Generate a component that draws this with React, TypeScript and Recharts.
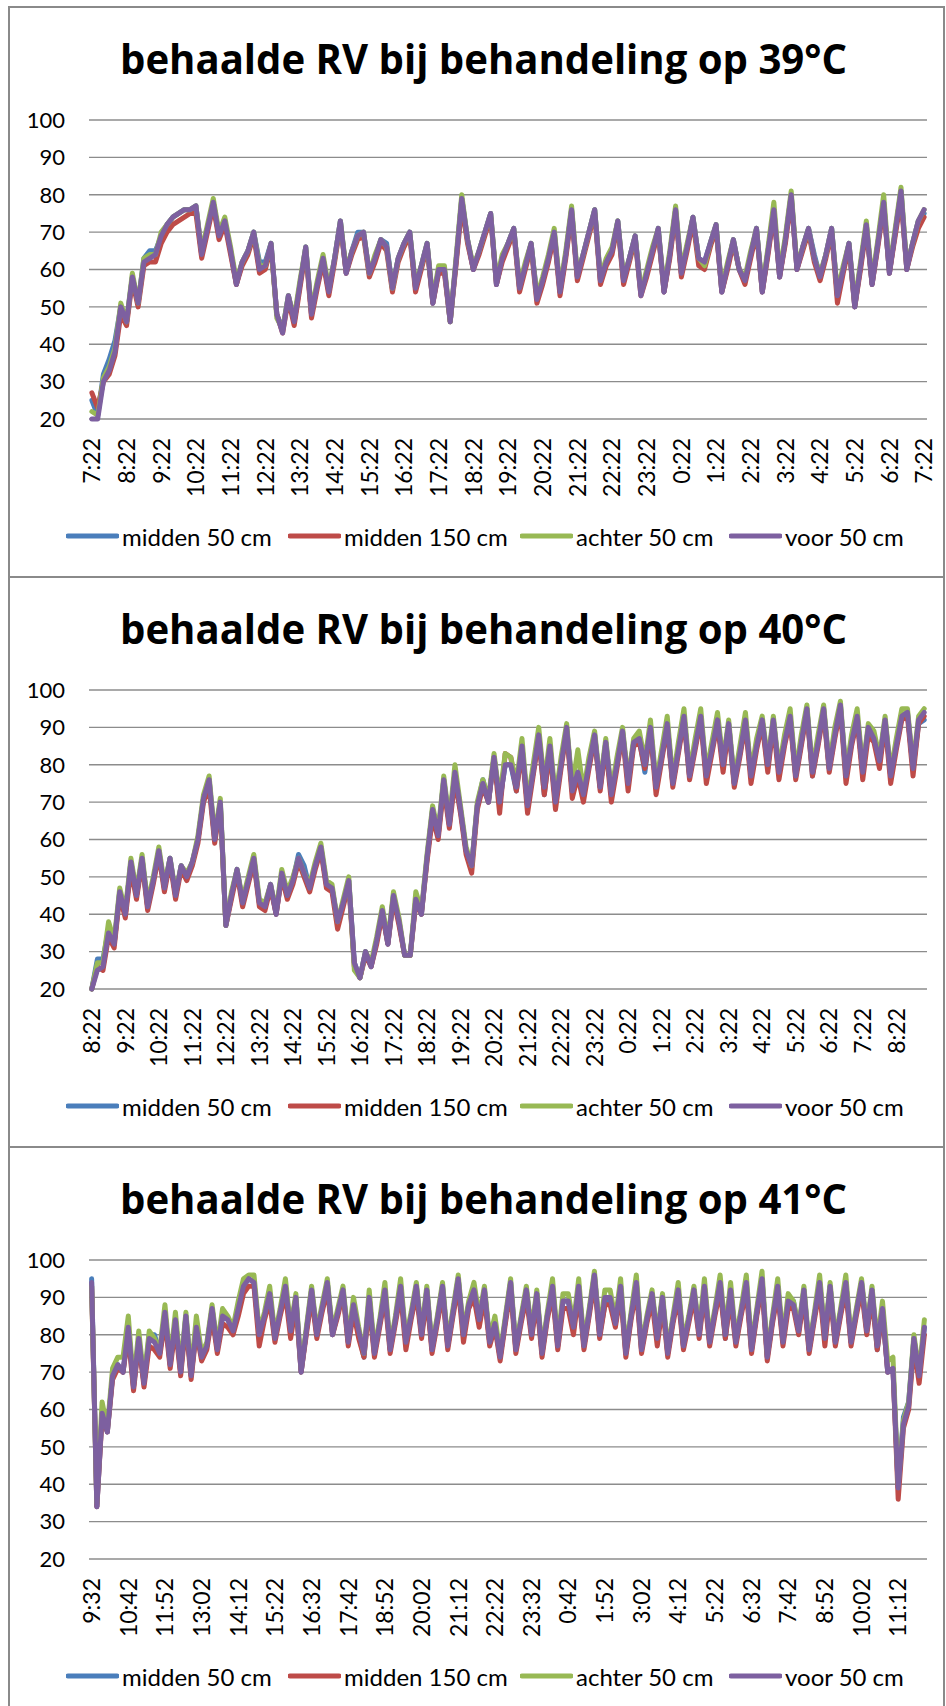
import { LineChart, Line, XAxis, YAxis, CartesianGrid, Legend } from "recharts";

const seriesNames = ["midden 50 cm", "midden 150 cm", "achter 50 cm", "voor 50 cm"];
const seriesKeys = ["mid50", "mid150", "achter", "voor"];
const seriesColors = ["#4A7EBB", "#BE4B48", "#98B954", "#7D60A0"];
const yTicks = [20, 30, 40, 50, 60, 70, 80, 90, 100];

// 39°C, one point every 10 min, label every hour
const labels39 = ["7:22", "8:22", "9:22", "10:22", "11:22", "12:22", "13:22", "14:22", "15:22", "16:22", "17:22", "18:22", "19:22",
    "20:22", "21:22", "22:22", "23:22", "0:22", "1:22", "2:22", "3:22", "4:22", "5:22", "6:22", "7:22"];
const mid50_39 = [
    25, 21, 32, 36, 41, 50, 46, 58, 51, 63, 65, 65, 69, 72, 74, 75, 76, 76, 77, 64,
    71, 78, 69, 73, 65, 56, 62, 65, 70, 62, 62, 67, 48, 44, 53, 46, 56, 66, 48, 56,
    63, 54, 63, 73, 59, 65, 70, 70, 59, 63, 68, 67, 55, 63, 67, 70, 55, 61, 67, 51,
    60, 60, 46, 62, 79, 68, 60, 65, 70, 75, 56, 63, 67, 71, 55, 61, 67, 53, 57, 63,
    70, 54, 64, 76, 58, 64, 70, 76, 57, 62, 65, 73, 57, 63, 69, 54, 59, 65, 71, 54,
    64, 76, 59, 66, 74, 63, 62, 67, 72, 54, 61, 68, 60, 57, 64, 71, 54, 65, 76, 58,
    68, 80, 60, 66, 71, 64, 58, 64, 71, 53, 60, 67, 50, 61, 72, 56, 67, 78, 59, 70,
    81, 60, 67, 73, 75];
const mid150_39 = [
    27, 23, 30, 32, 37, 48, 45, 57, 50, 61, 62, 62, 67, 70, 72, 73, 74, 75, 75, 63,
    70, 77, 68, 72, 64, 56, 61, 64, 69, 59, 60, 66, 48, 43, 52, 45, 55, 65, 47, 55,
    62, 53, 62, 72, 59, 64, 68, 69, 58, 62, 67, 65, 54, 62, 66, 69, 54, 60, 66, 51,
    59, 59, 46, 61, 77, 67, 60, 64, 69, 74, 56, 62, 66, 70, 54, 60, 66, 51, 56, 62,
    69, 53, 63, 75, 57, 63, 69, 75, 56, 61, 64, 72, 56, 62, 68, 53, 58, 64, 70, 54,
    63, 75, 58, 65, 73, 61, 60, 66, 71, 54, 60, 67, 60, 56, 63, 70, 54, 64, 75, 58,
    67, 79, 60, 65, 70, 62, 57, 63, 70, 51, 59, 66, 50, 60, 71, 56, 66, 77, 59, 69,
    79, 60, 66, 71, 74];
const achter_39 = [
    22, 21, 31, 34, 39, 51, 46, 59, 51, 63, 64, 64, 70, 72, 74, 75, 76, 76, 77, 65,
    72, 79, 70, 74, 66, 57, 62, 65, 70, 61, 61, 67, 47, 44, 53, 47, 57, 66, 49, 57,
    64, 55, 63, 73, 60, 65, 69, 70, 59, 64, 68, 66, 55, 63, 67, 70, 56, 61, 67, 52,
    61, 61, 46, 63, 80, 68, 61, 65, 70, 75, 57, 64, 67, 71, 56, 62, 67, 53, 58, 64,
    71, 55, 65, 77, 59, 64, 70, 76, 58, 63, 66, 73, 58, 63, 69, 54, 60, 66, 71, 55,
    65, 77, 60, 67, 74, 63, 61, 67, 72, 55, 62, 68, 60, 58, 65, 71, 55, 66, 78, 59,
    69, 81, 61, 66, 71, 63, 59, 64, 71, 54, 61, 67, 51, 62, 73, 57, 68, 80, 60, 71,
    82, 61, 67, 73, 76];
const voor_39 = [
    20, 20, 30, 33, 38, 50, 46, 58, 51, 62, 63, 64, 69, 72, 74, 75, 76, 76, 77, 64,
    71, 78, 69, 73, 65, 56, 62, 65, 70, 60, 61, 67, 48, 43, 53, 46, 56, 66, 48, 56,
    63, 54, 63, 73, 59, 65, 69, 70, 59, 63, 68, 66, 55, 63, 67, 70, 55, 61, 67, 51,
    60, 60, 46, 62, 79, 68, 60, 65, 70, 75, 56, 63, 67, 71, 55, 61, 67, 52, 57, 63,
    70, 54, 64, 76, 58, 64, 70, 76, 57, 62, 65, 73, 57, 63, 69, 53, 59, 65, 71, 54,
    64, 76, 59, 66, 74, 63, 62, 67, 72, 54, 61, 68, 60, 57, 64, 71, 54, 65, 76, 58,
    68, 80, 60, 66, 71, 63, 58, 64, 71, 53, 60, 67, 50, 61, 72, 56, 67, 78, 59, 70,
    81, 60, 67, 73, 76];

// 40°C
const labels40 = ["8:22", "9:22", "10:22", "11:22", "12:22", "13:22", "14:22", "15:22", "16:22", "17:22", "18:22", "19:22", "20:22",
    "21:22", "22:22", "23:22", "0:22", "1:22", "2:22", "3:22", "4:22", "5:22", "6:22", "7:22", "8:22"];
const mid50_40 = [
    20, 28, 28, 36, 32, 46, 40, 54, 45, 55, 42, 49, 57, 47, 55, 45, 53, 50, 54, 60,
    71, 76, 60, 70, 37, 45, 52, 43, 49, 55, 43, 42, 48, 40, 51, 45, 49, 56, 53, 47,
    53, 58, 48, 47, 38, 43, 49, 27, 23, 30, 26, 33, 41, 32, 45, 38, 29, 29, 44, 40,
    55, 68, 61, 76, 64, 78, 68, 57, 53, 69, 76, 70, 82, 70, 80, 80, 73, 85, 69, 78,
    88, 72, 85, 70, 80, 90, 73, 78, 72, 80, 88, 74, 86, 72, 80, 89, 75, 86, 87, 78,
    90, 74, 82, 91, 75, 84, 93, 77, 85, 93, 77, 84, 92, 80, 91, 75, 83, 92, 77, 85,
    92, 79, 92, 78, 86, 93, 77, 86, 95, 77, 86, 95, 79, 88, 96, 77, 86, 93, 78, 90,
    87, 81, 92, 77, 85, 93, 94, 79, 91, 92];
const mid150_40 = [
    20, 26, 25, 34, 31, 45, 39, 52, 44, 54, 41, 48, 56, 46, 54, 44, 52, 49, 53, 59,
    70, 74, 59, 69, 37, 44, 51, 42, 48, 54, 42, 41, 47, 40, 50, 44, 48, 54, 50, 46,
    52, 57, 47, 46, 36, 42, 48, 26, 23, 29, 26, 32, 40, 32, 44, 37, 29, 29, 43, 40,
    54, 66, 60, 74, 63, 76, 67, 56, 51, 68, 74, 70, 82, 67, 83, 82, 73, 84, 67, 77,
    87, 72, 84, 68, 79, 89, 71, 77, 70, 79, 87, 73, 85, 70, 79, 88, 73, 85, 86, 79,
    89, 72, 81, 90, 74, 83, 92, 76, 84, 92, 75, 83, 91, 78, 90, 74, 82, 91, 75, 84,
    91, 78, 91, 76, 85, 92, 76, 85, 94, 77, 85, 94, 78, 87, 95, 75, 85, 92, 76, 88,
    86, 79, 91, 75, 84, 92, 93, 77, 91, 93];
const achter_40 = [
    20, 27, 27, 38, 33, 47, 41, 55, 46, 56, 43, 50, 58, 48, 55, 46, 53, 51, 54, 61,
    72, 77, 61, 71, 37, 46, 52, 44, 50, 56, 44, 43, 48, 41, 52, 46, 50, 55, 51, 48,
    54, 59, 49, 48, 38, 44, 50, 25, 23, 30, 27, 34, 42, 33, 46, 39, 29, 29, 46, 41,
    56, 69, 62, 77, 65, 80, 69, 58, 53, 70, 76, 71, 83, 71, 83, 82, 75, 87, 70, 80,
    90, 75, 87, 71, 82, 91, 74, 84, 73, 82, 89, 75, 87, 73, 82, 90, 76, 87, 89, 81,
    92, 75, 84, 93, 76, 86, 95, 78, 87, 95, 78, 86, 94, 81, 92, 76, 85, 94, 78, 87,
    93, 81, 93, 79, 88, 95, 78, 88, 96, 79, 88, 96, 80, 90, 97, 78, 88, 95, 79, 91,
    89, 82, 93, 78, 87, 95, 95, 80, 93, 95];
const voor_40 = [
    20, 25, 26, 35, 32, 46, 40, 54, 45, 55, 42, 49, 57, 47, 55, 45, 53, 50, 54, 60,
    71, 76, 60, 70, 37, 45, 52, 43, 49, 55, 43, 42, 48, 40, 51, 45, 49, 55, 51, 47,
    53, 58, 48, 47, 38, 43, 49, 27, 23, 30, 26, 33, 41, 32, 45, 38, 29, 29, 44, 40,
    55, 68, 61, 76, 64, 78, 68, 57, 53, 69, 75, 70, 82, 70, 80, 80, 74, 85, 69, 78,
    88, 74, 85, 70, 80, 90, 73, 78, 72, 80, 88, 74, 86, 72, 80, 89, 75, 86, 87, 80,
    90, 74, 82, 91, 75, 84, 93, 77, 85, 93, 77, 84, 92, 80, 91, 75, 83, 92, 77, 85,
    92, 80, 92, 78, 86, 93, 77, 86, 95, 78, 86, 95, 79, 88, 96, 77, 86, 93, 78, 90,
    87, 81, 92, 77, 85, 93, 94, 79, 92, 94];

// 41°C, label every 70 min
const labels41 = ["9:32", "10:42", "11:52", "13:02", "14:12", "15:22", "16:32", "17:42", "18:52", "20:02", "21:12", "22:22",
    "23:32", "0:42", "1:52", "3:02", "4:12", "5:22", "6:32", "7:42", "8:52", "10:02", "11:12"];
const mid50_41 = [
    95, 34, 59, 54, 69, 72, 70, 82, 66, 79, 67, 80, 80, 75, 86, 72, 84, 70, 85, 69,
    82, 74, 77, 87, 76, 85, 84, 81, 87, 93, 95, 94, 80, 85, 91, 79, 86, 93, 81, 90,
    70, 81, 92, 80, 87, 94, 80, 86, 92, 78, 88, 80, 74, 90, 75, 83, 92, 76, 84, 93,
    78, 85, 93, 80, 92, 76, 84, 93, 77, 86, 95, 80, 88, 92, 83, 92, 78, 83, 74, 84,
    94, 76, 84, 92, 80, 91, 75, 85, 93, 77, 89, 89, 82, 93, 77, 86, 96, 80, 88, 89,
    83, 93, 75, 85, 94, 76, 84, 91, 79, 90, 75, 84, 92, 77, 84, 92, 80, 93, 78, 86,
    94, 79, 92, 78, 86, 94, 76, 86, 95, 74, 84, 93, 78, 89, 89, 81, 92, 76, 85, 94,
    79, 93, 78, 86, 94, 78, 86, 94, 81, 92, 76, 87, 70, 71, 39, 58, 62, 79, 69, 82];
const mid150_41 = [
    93, 34, 58, 54, 68, 71, 70, 80, 65, 78, 66, 77, 76, 74, 84, 71, 82, 69, 83, 68,
    81, 73, 76, 85, 75, 83, 82, 80, 85, 91, 93, 93, 77, 84, 89, 78, 85, 91, 79, 88,
    70, 80, 90, 79, 86, 92, 80, 85, 91, 77, 86, 79, 74, 88, 74, 82, 90, 75, 83, 91,
    76, 84, 91, 79, 90, 75, 83, 91, 76, 85, 93, 78, 87, 90, 82, 90, 77, 82, 73, 83,
    92, 75, 83, 90, 79, 89, 74, 84, 91, 76, 87, 87, 80, 91, 76, 85, 94, 79, 88, 88,
    82, 91, 74, 84, 92, 75, 83, 89, 77, 88, 74, 83, 90, 76, 83, 90, 79, 91, 77, 85,
    92, 79, 90, 77, 85, 92, 75, 85, 93, 73, 83, 91, 77, 87, 87, 80, 90, 75, 84, 92,
    77, 91, 77, 85, 92, 77, 85, 92, 80, 90, 76, 86, 70, 71, 36, 55, 60, 77, 67, 80];
const achter_41 = [
    93, 35, 62, 55, 71, 74, 74, 85, 67, 81, 68, 81, 79, 76, 88, 73, 86, 71, 86, 70,
    85, 75, 78, 88, 77, 87, 85, 82, 89, 95, 96, 96, 81, 86, 93, 80, 87, 95, 82, 91,
    71, 82, 93, 81, 88, 95, 81, 87, 93, 79, 90, 82, 75, 92, 76, 84, 94, 77, 85, 95,
    79, 86, 94, 81, 93, 77, 85, 94, 78, 87, 96, 81, 89, 94, 85, 93, 79, 85, 75, 85,
    95, 77, 85, 93, 81, 92, 76, 86, 95, 78, 91, 91, 83, 95, 78, 87, 97, 81, 92, 92,
    84, 95, 76, 86, 96, 77, 85, 92, 80, 91, 76, 85, 94, 78, 85, 93, 81, 95, 79, 87,
    96, 81, 94, 79, 87, 96, 77, 87, 97, 75, 85, 95, 79, 91, 89, 82, 93, 77, 86, 96,
    80, 94, 79, 87, 96, 79, 87, 95, 82, 93, 78, 89, 73, 74, 40, 57, 62, 80, 70, 84];
const voor_41 = [
    94, 34, 59, 54, 69, 72, 70, 82, 66, 79, 67, 79, 78, 75, 86, 72, 84, 70, 85, 69,
    82, 74, 77, 87, 76, 85, 84, 81, 87, 93, 95, 94, 80, 85, 91, 79, 86, 93, 81, 90,
    70, 81, 92, 80, 87, 94, 80, 86, 92, 78, 88, 81, 75, 90, 75, 83, 92, 76, 84, 93,
    78, 85, 93, 80, 92, 76, 84, 93, 77, 86, 95, 80, 88, 92, 84, 92, 78, 83, 74, 84,
    94, 76, 84, 92, 80, 91, 75, 85, 93, 77, 89, 89, 82, 93, 77, 86, 96, 80, 90, 90,
    83, 93, 75, 85, 94, 76, 84, 91, 79, 90, 75, 84, 92, 77, 84, 92, 80, 93, 78, 86,
    94, 80, 92, 78, 86, 94, 76, 86, 95, 74, 84, 93, 78, 89, 88, 81, 92, 76, 85, 94,
    79, 93, 78, 86, 94, 78, 86, 94, 81, 92, 77, 87, 70, 71, 39, 56, 61, 79, 69, 82];

function buildRows(a: number[], b: number[], c: number[], d: number[]) {
    return d.map((v, i) => ({ i, mid50: a[i], mid150: b[i], achter: c[i], voor: v }));
}

const panels = [
    { title: "behaalde RV bij behandeling op 39°C", rows: buildRows(mid50_39, mid150_39, achter_39, voor_39), labels: labels39, step: 6 },
    { title: "behaalde RV bij behandeling op 40°C", rows: buildRows(mid50_40, mid150_40, achter_40, voor_40), labels: labels40, step: 6 },
    { title: "behaalde RV bij behandeling op 41°C", rows: buildRows(mid50_41, mid150_41, achter_41, voor_41), labels: labels41, step: 7 },
];

const font = "Lato, 'Open Sans', sans-serif";
const legendWidths = [222, 232, 209, 177];

function LegendBox() {
    return (
        <div style={{ display: "flex", height: 40, alignItems: "center", paddingLeft: 56 }}>
            {seriesNames.map((name, k) => (
                <div key={name} style={{ display: "flex", alignItems: "center", width: legendWidths[k] }}>
                    <svg width={53} height={8} style={{ display: "block" }}>
                        <line x1={2} y1={4} x2={51} y2={4} stroke={seriesColors[k]} strokeWidth={5} strokeLinecap="round" />
                    </svg>
                    <span style={{ marginLeft: 3, fontFamily: font, fontSize: 24, color: "#000", whiteSpace: "nowrap" }}>{name}</span>
                </div>
            ))}
        </div>
    );
}

function Panel(props: any) {
    const { title, rows, labels, step, top } = props;
    const pad = 838 / rows.length / 2;
    const renderTick = (p: any) => {
        const label = labels[Math.round(p.payload.value / step)];
        return (
            <text x={p.x} y={p.y} transform={`rotate(-90 ${p.x} ${p.y})`} textAnchor="end" dy="0.36em"
                fontSize={23} fontFamily={font} fill="#000">
                {label}
            </text>
        );
    };
    return (
        <div style={{ position: "absolute", left: 8, top, width: 937, height: 572, border: "2px solid #8a8a8a", boxSizing: "border-box", background: "#fff" }}>
            <svg width={930} height={90} style={{ position: "absolute", left: 0, top: 0 }}>
                <text x={473.5} y={66} textAnchor="middle" fontFamily="'Open Sans', sans-serif" fontWeight={700}
                    fontSize={42} textLength={727} lengthAdjust="spacingAndGlyphs" fill="#000">
                    {title}
                </text>
            </svg>
            <div style={{ position: "absolute", left: 0, top: 92 }}>
                <LineChart width={930} height={465} data={rows} margin={{ top: 20, right: 13, bottom: 9, left: 0 }}>
                    <CartesianGrid vertical={false} stroke="#8c8c8c" strokeWidth={1.3} />
                    <XAxis dataKey="i" type="category" scale="point" interval={step - 1} padding={{ left: pad, right: pad }}
                        axisLine={false} tickLine={false} tickSize={0} tickMargin={19} height={97} tick={renderTick} />
                    <YAxis domain={[20, 100]} ticks={yTicks} axisLine={false} tickLine={false} tickSize={0} tickMargin={24}
                        width={79} tick={{ fontSize: 22, fontFamily: font, fill: "#000" }} />
                    <Legend verticalAlign="bottom" height={40} content={() => <LegendBox />} />
                    {seriesKeys.map((key, k) => (
                        <Line key={key} type="linear" dataKey={key} name={seriesNames[k]} stroke={seriesColors[k]}
                            strokeWidth={5} strokeLinejoin="round" strokeLinecap="round" dot={false} activeDot={false}
                            isAnimationActive={false} />
                    ))}
                </LineChart>
            </div>
        </div>
    );
}

export default function App() {
    return (
        <div style={{ position: "absolute", left: 0, top: 0, width: 946, height: 1706, background: "#fff", overflow: "hidden" }}>
            {panels.map((p, k) => (
                <Panel key={k} {...p} top={6 + 570 * k} />
            ))}
        </div>
    );
}
